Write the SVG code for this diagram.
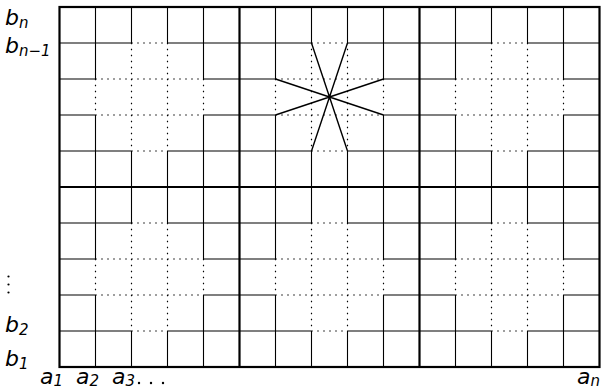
<svg xmlns="http://www.w3.org/2000/svg" xmlns:xlink="http://www.w3.org/1999/xlink" width="601" height="389" viewBox="0 0 601 389">
<style>
.solid{fill:none;stroke:#000;stroke-width:1.1}
.dot{fill:none;stroke:#000;stroke-width:1.2;stroke-dasharray:1.5 4.5;stroke-dashoffset:0.25}
.thick{fill:none;stroke:#000;stroke-width:2.2}
.star{fill:none;stroke:#000;stroke-width:1.4}
text{font-family:"DejaVu Sans","Liberation Sans",sans-serif;font-style:oblique;fill:#000}
.m{font-size:22px}
.s{font-size:15px}
</style>
<defs>
<g id="block">
<path class="solid" d="M36 0V72M36 108V180M144 0V72M144 108V180M72 0V36M72 144V180M108 0V36M108 144V180M0 36H72M108 36H180M0 144H72M108 144H180M0 72H36M144 72H180M0 108H36M144 108H180"/>
<path class="dot" d="M36 72V108M144 72V108M72 36V144M108 36V144M72 36H108M72 144H108M36 72H144M36 108H144"/>
</g>
</defs>
<g id="grid">
<use xlink:href="#block" transform="translate(59.5,7)"/>
<use xlink:href="#block" transform="translate(239.5,7)"/>
<use xlink:href="#block" transform="translate(419.5,7)"/>
<use xlink:href="#block" transform="translate(59.5,187)"/>
<use xlink:href="#block" transform="translate(239.5,187)"/>
<use xlink:href="#block" transform="translate(419.5,187)"/>
<rect class="thick" x="59.5" y="7" width="540" height="360"/>
<path class="thick" d="M239.5 7V367M419.5 7V367M59.5 187H599.5"/>
</g>
<g id="star" transform="translate(239.5,7)">
<path class="star" d="M72 36L108 144M108 36L72 144M36 72L144 108M36 108L144 72"/>
</g>
<g id="labels">
<text class="m" x="5" y="25">b<tspan class="s" dy="3">n</tspan></text>
<text class="m" x="5" y="53">b<tspan class="s" dy="3">n−1</tspan></text>
<g fill="#000"><circle cx="8.5" cy="276.5" r="1.1"/><circle cx="8.5" cy="284.5" r="1.1"/><circle cx="8.5" cy="292.5" r="1.1"/></g>
<text class="m" x="5" y="332">b<tspan class="s" dy="3">2</tspan></text>
<text class="m" x="5" y="366">b<tspan class="s" dy="3">1</tspan></text>
<text class="m" x="40" y="384">a<tspan class="s" dy="2">1</tspan></text>
<text class="m" x="76" y="384">a<tspan class="s" dy="2">2</tspan></text>
<text class="m" x="112" y="384">a<tspan class="s" dy="2">3</tspan></text>
<g fill="#000"><circle cx="139" cy="383" r="1.2"/><circle cx="151" cy="383" r="1.2"/><circle cx="163" cy="383" r="1.2"/></g>
<text class="m" x="577" y="384">a<tspan class="s" dy="2">n</tspan></text>
</g>
</svg>
